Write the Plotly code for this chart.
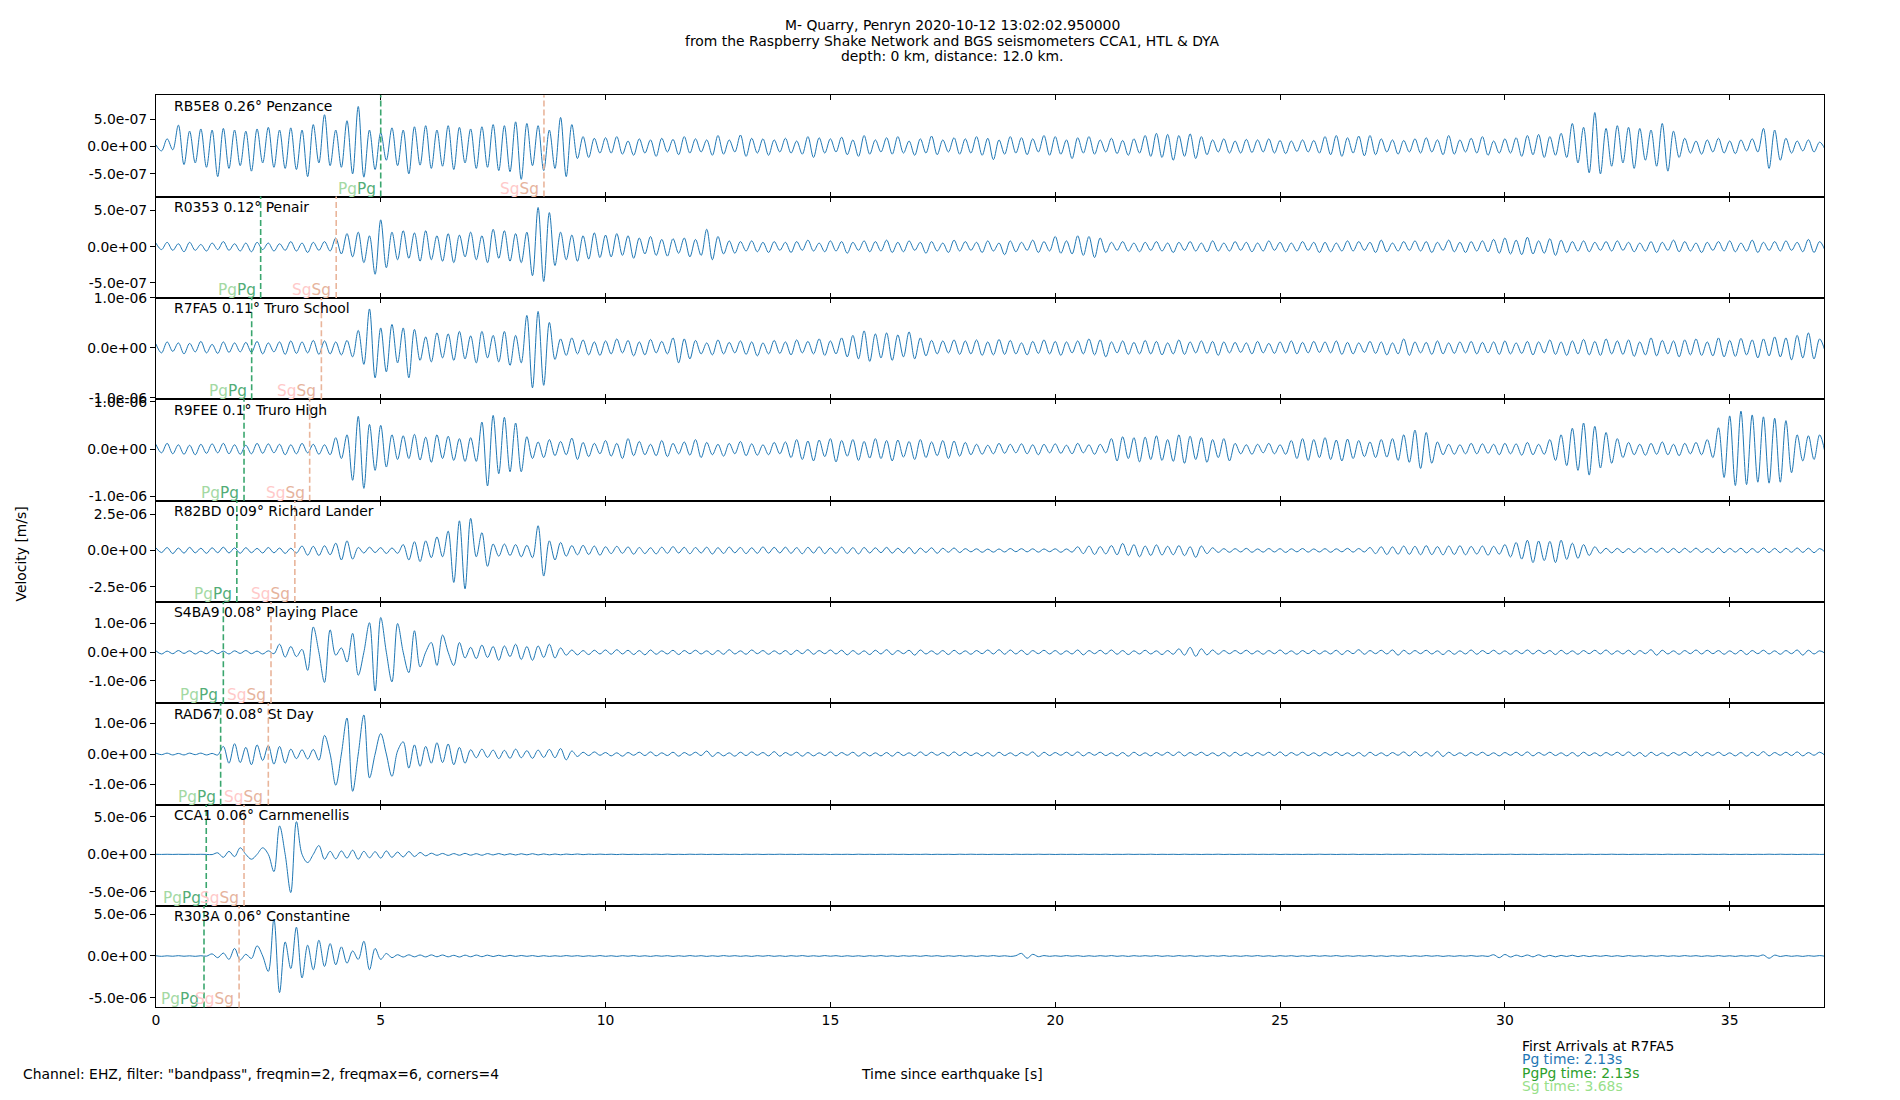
import numpy as np
import plotly.graph_objects as go
from plotly.subplots import make_subplots

# Digitised half-cycle extrema of each vertical-component trace,
# one value every DT seconds, in units of 1e-8 m/s
DT = 0.125
UNIT = 1e-8

stations = ["RB5E8", "R0353", "R7FA5", "R9FEE", "R82BD", "S4BA9", "RAD67", "CCA1", "R303A"]
distances = ["0.26", "0.12", "0.11", "0.1", "0.09", "0.08", "0.08", "0.06", "0.06"]
places = ["Penzance", "Penair", "Truro School", "Truro High", "Richard Lander",
          "Playing Place", "St Day", "Carnmenellis", "Constantine"]

# phase arrival times (s) per station
pg_times = [5.00, 2.33, 2.13, 1.96, 1.80, 1.50, 1.44, 1.12, 1.07]
sg_times = [8.63, 4.01, 3.68, 3.42, 3.09, 2.56, 2.50, 1.96, 1.85]

# y limits (units of 1e-8 m/s) and tick step (m/s) per panel
y_low = [-91.5, -70.7, -103, -109, -356, -178, -166, -688, -614]
y_high = [93.5, 69, 100, 105, 343, 175, 166, 660, 596]
tick_steps = [5e-7, 5e-7, 1e-6, 1e-6, 2.5e-6, 1e-6, 1e-6, 5e-6, 5e-6]

x_ticks = [0, 5, 10, 15, 20, 25, 30, 35]

rb5e8 = [
    3, -8, 14, -6, 39, -33, 28, -30, 32, -38, 30, -55, 33, -40, 30, -35,
    28, -45, 32, -30, 35, -38, 30, -40, 34, -42, 30, -55, 40, -30, 58, -35,
    30, -38, 47, -50, 73, -56, 30, -42, 25, -25, 34, -35, 30, -50, 36, -34,
    38, -40, 30, -36, 38, -42, 35, -30, 32, -40, 36, -38, 40, -44, 38, -46,
    45, -60, 42, -35, 38, -44, 30, -40, 53, -55, 40, -22, 18, -20, 15, -12,
    16, -12, 18, -14, 10, -16, 14, -12, 12, -18, 15, -10, 13, -15, 18, -12,
    14, -10, 12, -16, 20, -14, 12, -10, 21, -18, 15, -12, 14, -16, 12, -10,
    15, -12, 10, -14, 18, -20, 16, -12, 14, -10, 17, -15, 12, -18, 20, -14,
    12, -10, 16, -14, 18, -12, 10, -16, 14, -12, 19, -15, 12, -10, 16, -14,
    14, -12, 18, -16, 15, -24, 12, -14, 18, -12, 16, -15, 14, -10, 20, -16,
    18, -14, 12, -22, 16, -12, 18, -14, 12, -10, 15, -13, 11, -16, 14, -12,
    20, -18, 24, -20, 22, -25, 20, -18, 23, -22, 18, -15, 12, -10, 14, -12,
    10, -12, 13, -11, 12, -10, 14, -12, 11, -13, 10, -9, 12, -10, 11, -12,
    18, -15, 20, -18, 16, -12, 19, -17, 20, -15, 14, -10, 12, -14, 11, -10,
    14, -12, 16, -10, 12, -15, 20, -14, 12, -10, 15, -12, 18, -16, 10, -12,
    14, -12, 16, -18, 20, -15, 22, -20, 18, -16, 24, -20, 42, -30, 35, -48,
    62, -50, 33, -36, 38, -30, 35, -40, 33, -25, 30, -36, 42, -45, 28, -20,
    15, -12, 10, -14, 12, -10, 15, -12, 10, -13, 12, -8, 14, -10, 33, -40,
    30, -25, 15, -12, 10, -8, 12, -10, 8, -6,
]

r0353 = [
    5, -4, 6, -5, 4, -7, 6, -5, 3, -6, 5, -4, 7, -5, 4, -6,
    5, -7, 6, -4, 5, -6, 4, -5, 7, -6, 5, -8, 6, -5, 7, -6,
    12, -10, 18, -14, 20, -22, 15, -38, 37, -29, 20, -18, 22, -16, 19, -20,
    22, -18, 15, -20, 18, -22, 16, -14, 20, -18, 15, -22, 24, -16, 22, -20,
    18, -22, 20, -40, 54, -48, 47, -26, 20, -18, 16, -20, 15, -17, 19, -15,
    16, -14, 18, -12, 15, -16, 12, -10, 14, -12, 10, -13, 11, -9, 12, -14,
    10, -12, 24, -18, 14, -10, 8, -9, 7, -6, 8, -7, 6, -8, 7, -5,
    6, -8, 7, -5, 9, -6, 5, -7, 8, -6, 7, -9, 6, -5, 8, -7,
    7, -6, 9, -8, 6, -7, 8, -5, 6, -9, 7, -6, 5, -8, 9, -6,
    7, -5, 6, -8, 8, -6, 5, -11, 8, -7, 6, -5, 9, -8, 7, -6,
    14, -9, 8, -10, 15, -12, 14, -15, 12, -8, 6, -5, 7, -6, 5, -7,
    6, -5, 7, -6, 5, -8, 6, -5, 7, -6, 5, -7, 8, -6, 5, -6,
    7, -5, 6, -7, 5, -6, 8, -5, 6, -7, 5, -6, 7, -5, 6, -8,
    6, -7, 5, -6, 8, -6, 7, -5, 6, -8, 9, -7, 5, -6, 7, -5,
    8, -6, 7, -8, 6, -5, 9, -7, 6, -8, 7, -6, 8, -7, 10, -9,
    12, -10, 9, -11, 13, -10, 8, -9, 11, -12, 9, -8, 7, -6, 8, -7,
    6, -5, 7, -6, 8, -5, 6, -7, 5, -6, 7, -8, 6, -5, 9, -7,
    7, -6, 5, -8, 6, -5, 7, -6, 8, -7, 5, -6, 9, -8, 6, -5,
    7, -6, 8, -5, 6, -7, 10, -8, 7, -6,
]

r7fa5 = [
    8, -10, 12, -7, 10, -12, 9, -8, 13, -10, 7, -11, 12, -9, 10, -8,
    11, -9, 13, -12, 10, -8, 12, -13, 14, -11, 12, -10, 15, -13, 14, -12,
    12, -14, 15, -18, 35, -33, 78, -60, 40, -48, 47, -30, 40, -60, 37, -25,
    22, -28, 30, -20, 28, -25, 33, -22, 24, -30, 33, -20, 25, -28, 33, -35,
    25, -30, 65, -80, 73, -75, 51, -23, 18, -15, 20, -12, 16, -14, 12, -15,
    14, -12, 18, -10, 15, -16, 12, -14, 17, -10, 13, -12, 20, -30, 18, -22,
    15, -12, 10, -14, 16, -12, 11, -10, 14, -13, 12, -16, 10, -12, 15, -11,
    12, -14, 16, -10, 13, -12, 18, -15, 14, -12, 20, -18, 25, -22, 34, -27,
    28, -20, 30, -25, 26, -18, 32, -22, 20, -16, 15, -12, 14, -10, 16, -13,
    14, -12, 16, -15, 12, -14, 17, -13, 15, -12, 10, -14, 13, -11, 16, -12,
    13, -15, 12, -10, 14, -12, 18, -14, 16, -18, 12, -10, 14, -13, 11, -12,
    15, -12, 13, -14, 10, -12, 16, -13, 12, -10, 14, -11, 13, -15, 12, -10,
    11, -9, 10, -12, 13, -10, 9, -11, 12, -10, 14, -12, 11, -10, 13, -9,
    12, -10, 14, -13, 11, -12, 10, -9, 13, -11, 12, -14, 10, -12, 18, -15,
    12, -10, 11, -13, 14, -12, 10, -11, 12, -10, 13, -12, 11, -10, 12, -13,
    14, -12, 10, -11, 13, -14, 12, -10, 16, -13, 12, -15, 14, -12, 17, -14,
    13, -15, 18, -12, 14, -13, 16, -17, 12, -14, 20, -16, 15, -12, 14, -18,
    16, -14, 18, -15, 12, -16, 20, -18, 15, -17, 19, -14, 16, -20, 18, -16,
    22, -18, 20, -24, 25, -20, 30, -22, 18, -8,
]

r9fee = [
    10, -8, 12, -10, 9, -11, 8, -12, 10, -9, 11, -8, 12, -10, 9, -11,
    8, -10, 12, -9, 11, -8, 10, -12, 9, -10, 12, -8, 10, -11, 9, -12,
    24, -20, 30, -66, 69, -83, 52, -45, 50, -38, 30, -22, 28, -20, 31, -23,
    25, -28, 30, -20, 27, -24, 22, -26, 24, -26, 57, -78, 71, -52, 67, -48,
    55, -48, 26, -20, 15, -18, 20, -14, 16, -12, 23, -22, 14, -16, 12, -10,
    18, -15, 12, -20, 22, -14, 16, -12, 10, -14, 18, -16, 12, -10, 15, -13,
    20, -18, 14, -12, 10, -15, 12, -10, 16, -14, 11, -13, 9, -12, 14, -10,
    15, -18, 20, -22, 17, -25, 19, -16, 22, -27, 18, -15, 20, -24, 16, -19,
    22, -20, 18, -25, 19, -17, 16, -22, 20, -18, 15, -14, 18, -20, 17, -15,
    14, -12, 10, -11, 8, -10, 12, -9, 10, -8, 11, -10, 9, -12, 10, -8,
    11, -9, 8, -10, 12, -8, 9, -11, 10, -8, 22, -25, 26, -20, 24, -27,
    25, -22, 28, -24, 20, -26, 30, -30, 27, -22, 24, -28, 20, -18, 22, -25,
    12, -10, 9, -11, 10, -8, 12, -10, 9, -11, 18, -20, 22, -24, 20, -18,
    24, -22, 19, -25, 21, -20, 18, -16, 15, -18, 20, -17, 22, -24, 30, -28,
    40, -41, 35, -30, 15, -12, 10, -11, 9, -10, 12, -10, 11, -9, 10, -12,
    12, -10, 11, -13, 14, -12, 10, -11, 20, -24, 30, -35, 44, -45, 55, -55,
    48, -40, 35, -30, 22, -18, 14, -12, 10, -13, 12, -11, 15, -12, 10, -14,
    12, -10, 14, -12, 20, -18, 45, -60, 70, -77, 80, -75, 72, -70, 68, -72,
    65, -70, 60, -50, 30, -25, 28, -22, 30, -10,
]

r82bd = [
    18, -15, 20, -22, 16, -19, 21, -17, 15, -20, 18, -16, 22, -18, 17, -20,
    19, -16, 14, -18, 20, -17, 16, -21, 15, -18, 30, -33, 28, -35, 32, -30,
    50, -66, 66, -60, 20, -18, 22, -15, 19, -21, 17, -20, 40, -66, 60, -77,
    66, -50, 93, -44, 133, -221, 204, -265, 221, -44, 122, -110, 44, -40, 44, -35,
    40, -44, 35, -50, 170, -177, 66, -66, 55, -40, 33, -30, 35, -28, 30, -33,
    25, -22, 28, -20, 24, -26, 20, -22, 18, -24, 22, -20, 26, -18, 21, -23,
    20, -18, 22, -25, 19, -21, 23, -17, 20, -22, 18, -20, 24, -19, 21, -18,
    22, -20, 19, -23, 21, -18, 24, -22, 17, -20, 22, -21, 19, -24, 20, -18,
    18, -16, 21, -19, 15, -17, 20, -22, 16, -14, 18, -20, 15, -13, 17, -15,
    12, -10, 11, -13, 9, -12, 10, -11, 13, -9, 12, -10, 11, -12, 10, -9,
    11, -13, 10, -12, 25, -22, 30, -28, 26, -24, 33, -30, 48, -35, 40, -44,
    30, -35, 38, -32, 28, -30, 33, -36, 25, -48, 30, -22, 18, -14, 12, -13,
    12, -11, 14, -13, 10, -12, 13, -11, 12, -14, 11, -10, 13, -12, 10, -11,
    12, -13, 11, -10, 14, -12, 13, -11, 20, -22, 25, -28, 24, -26, 30, -27,
    28, -30, 33, -29, 26, -31, 30, -28, 32, -30, 27, -25, 30, -33, 28, -26,
    40, -45, 55, -60, 70, -84, 65, -70, 62, -84, 70, -62, 50, -55, 40, -35,
    25, -20, 15, -17, 14, -16, 13, -15, 16, -14, 15, -13, 17, -15, 14, -16,
    15, -13, 16, -14, 13, -15, 17, -16, 14, -12, 15, -17, 13, -14, 16, -15,
    14, -16, 15, -13, 17, -14, 15, -16, 13, -14,
]

s4ba9 = [
    5, -6, 4, -5, 6, -4, 5, -6, 4, -5, 6, -5, 4, -6, 5, -4,
    6, -5, 4, -6, 5, -5, 28, -17, 20, -15, 10, -63, 88, 0, -105, 78,
    -10, 15, -34, 66, -80, 0, 103, -135, 121, 0, -103, 100, 0, -71, 75, -51,
    0, 34, -46, 60, 0, -46, 34, -20, 17, -22, 25, -18, 20, -28, 22, -15,
    28, -25, 20, -28, 22, -18, 28, -20, 15, -10, 8, -9, 6, -8, 7, -6,
    8, -7, 9, -6, 7, -8, 6, -9, 8, -7, 5, -6, 7, -8, 6, -5,
    7, -6, 5, -8, 6, -7, 9, -6, 5, -7, 8, -5, 6, -7, 5, -6,
    6, -8, 7, -5, 9, -7, 6, -5, 8, -6, 7, -9, 6, -7, 5, -8,
    7, -6, 9, -8, 6, -5, 7, -10, 8, -6, 5, -7, 6, -8, 7, -6,
    5, -7, 6, -5, 8, -6, 9, -7, 8, -6, 7, -8, 6, -5, 7, -6,
    6, -7, 5, -6, 8, -9, 6, -5, 7, -6, 8, -7, 6, -8, 5, -6,
    7, -6, 5, -8, 6, -7, 12, -10, 17, -14, 12, -9, 8, -7, 6, -5,
    6, -5, 7, -6, 5, -7, 6, -5, 8, -6, 5, -7, 6, -5, 7, -6,
    5, -6, 7, -8, 6, -5, 9, -7, 6, -5, 7, -6, 8, -10, 7, -6,
    6, -5, 7, -6, 5, -8, 6, -7, 5, -6, 8, -7, 6, -5, 7, -6,
    5, -7, 6, -5, 8, -6, 7, -5, 6, -8, 7, -6, 5, -7, 6, -5,
    7, -6, 8, -7, 5, -6, 7, -8, 6, -5, 9, -10, 7, -6, 5, -7,
    6, -5, 8, -6, 7, -5, 6, -7, 5, -6, 7, -8, 6, -5, 7, -6,
    5, -7, 6, -5, 8, -10, 7, -6, 5, -4,
]

rad67 = [
    3, -2, 3, -3, 2, -3, 3, -2, 3, -3, 2, -3, 25, -30, 34, -28,
    22, -35, 30, -21, 28, -33, 25, -30, 16, -15, 14, -16, 15, -20, 61, 0,
    -102, 0, 118, -122, 0, 128, -78, 0, 67, 0, -73, 10, 40, -46, 30, -40,
    25, -30, 37, -28, 33, -35, 22, -30, 14, -12, 16, -11, 13, -15, 12, -14,
    16, -12, 11, -14, 13, -11, 15, -12, 18, -19, 10, -8, 6, -5, 7, -4,
    5, -6, 4, -7, 5, -4, 6, -5, 7, -6, 4, -5, 6, -7, 5, -4,
    6, -5, 10, -8, 5, -6, 4, -7, 6, -5, 7, -4, 5, -6, 8, -7,
    5, -4, 6, -7, 5, -6, 4, -5, 7, -6, 5, -4, 6, -7, 5, -6,
    4, -6, 5, -7, 6, -5, 4, -6, 7, -5, 6, -4, 5, -6, 7, -5,
    6, -5, 4, -6, 5, -7, 6, -5, 4, -6, 5, -4, 7, -8, 6, -5,
    5, -4, 6, -5, 7, -6, 5, -4, 6, -5, 4, -6, 5, -7, 6, -5,
    4, -6, 5, -4, 6, -5, 7, -6, 5, -4, 6, -5, 4, -6, 5, -7,
    6, -5, 4, -6, 5, -4, 6, -5, 7, -6, 5, -4, 6, -5, 4, -6,
    5, -4, 6, -5, 4, -6, 5, -7, 6, -5, 4, -6, 5, -4, 7, -6,
    8, -6, 5, -7, 9, -8, 6, -5, 4, -6, 5, -4, 6, -5, 4, -6,
    5, -4, 6, -5, 7, -6, 5, -4, 6, -5, 4, -6, 5, -7, 6, -5,
    4, -6, 5, -4, 6, -5, 7, -6, 5, -8, 6, -5, 4, -6, 5, -4,
    6, -5, 7, -6, 5, -4, 6, -5, 4, -6, 5, -7, 6, -5, 8, -6,
    5, -4, 6, -5, 7, -6, 5, -4, 6, -5,
]

cca1 = [
    1, -1, 1, -1, 1, -1, 1, -1, 1, -1, -3, 20, -40, 40, -30, 87,
    0, -65, 0, 87, 0, -230, 378, 0, -509, 435, 0, -109, 0, 117, -65, 40,
    -60, 45, -50, 55, -65, 40, -45, 35, -50, 45, -40, 30, -35, 38, -30, 25,
    -20, 15, -13, 12, -14, 10, -12, 13, -11, 9, -12, 10, -8, 11, -9, 8,
    -9, 8, -7, 9, -8, 6, -7, 5, -6, 4, -3, 5, -4, 3, -2, 3,
    -2, 2, -3, 2, -2, 1, -2, 2, -1, 2, -2, 3, -2, 1, -2, 2,
    -1, 2, -2, 1, -2, 2, -1, 1, -2, 2, -1, 2, -2, 1, -1, 2,
    -1, 1, -2, 2, -1, 1, -1, 2, -2, 1, -1, 1, -2, 2, -1, 1,
    -2, 1, -1, 2, -1, 1, -2, 1, -1, 2, -2, 1, -1, 1, -2, 2,
    -1, 2, -1, 1, -2, 1, -1, 1, -2, 2, -1, 1, -1, 2, -1, 1,
    -2, 1, -1, 1, -2, 2, -1, 1, -1, 2, -2, 1, -1, 2, -1, 1,
    -1, 2, -2, 1, -1, 1, -2, 2, -1, 1, -2, 1, -1, 2, -2, 1,
    -2, 1, -1, 2, -1, 1, -1, 2, -2, 1, -1, 1, -2, 1, -1, 2,
    -1, 1, -2, 1, -1, 2, -2, 1, -1, 1, -2, 2, -1, 1, -1, 2,
    -2, 2, -1, 1, -1, 2, -1, 1, -2, 1, -1, 2, -2, 1, -1, 1,
    -1, 2, -2, 1, -1, 1, -2, 2, -1, 1, -1, 2, -2, 1, -1, 2,
    -2, 1, -1, 2, -1, 1, -2, 1, -1, 2, -1, 1, -2, 2, -1, 1,
    -1, 1, -2, 2, -1, 1, -1, 2, -2, 1, -1, 1, -2, 1, -1, 2,
    -1, 2, -1, 1, -2, 1, -1, 2, -1, 1,
]

r303a = [
    3, -4, 2, -3, 4, -3, 2, -4, 3, -2, 25, -20, 35, -40, 90, -47,
    20, -30, 121, 0, -184, 441, -437, 168, -150, 344, -262, 129, -164, 188, -125, 148,
    -105, 109, -86, 60, -40, 176, -164, 90, -40, 30, -20, 15, -12, 14, -10, 12,
    -11, 13, -9, 12, -10, 8, -12, 10, -9, 11, -8, 10, -7, 9, -6, 8,
    -5, 6, -4, 5, -6, 4, -5, 3, -4, 5, -3, 4, -5, 3, -4, 5,
    -4, 3, -5, 4, -3, 5, -4, 3, -5, 4, -3, 4, -5, 3, -4, 5,
    -3, 4, -5, 3, -4, 5, -3, 4, -4, 3, -5, 4, -3, 5, -4, 3,
    -5, 4, -3, 5, -4, 3, -4, 5, -3, 4, -5, 3, -4, 3, -5, 4,
    -3, 5, -4, 3, -5, 4, -3, 4, -4, 5, -3, 4, -5, 3, -4, 5,
    -4, 3, -5, 4, -3, 5, -4, 3, -5, 4, 31, -27, 20, -8, 5, -4,
    3, -4, 5, -3, 4, -5, 3, -4, 4, -3, 5, -4, 3, -5, 4, -3,
    4, -3, 5, -4, 3, -4, 5, -3, 4, -5, 3, -4, 4, -3, 5, -4,
    3, -4, 4, -3, 5, -4, 3, -5, 4, -3, 4, -5, 3, -4, 5, -3,
    4, -3, 5, -4, 3, -4, 4, -3, 5, -4, 3, -5, 4, -3, 4, -5,
    3, -4, 5, -3, 4, -5, 3, -4, 4, -3, 5, -4, 3, -5, 15, -20,
    18, -12, 10, -8, 12, -10, 14, -9, 8, -10, 7, -6, 9, -8, 6, -7,
    5, -4, 6, -5, 4, -6, 5, -4, 3, -5, 4, -3, 5, -4, 3, -4,
    5, -3, 4, -5, 3, -4, 5, -4, 3, -5, 4, -3, 5, -4, 12, -27,
    10, -6, 5, -4, 3, -5, 4, -3, 5, -4,
]

traces = [rb5e8, r0353, r7fa5, r9fee, r82bd, s4ba9, rad67, cca1, r303a]

# page geometry: the page body keeps an 8 px margin, so the figure is
# offset by PAD and positions below are given in window pixels
PAD = 8
PW, PH = 1900 - 2 * PAD, 1100 - PAD
LEFT, RIGHT = 152.2, 1824.0
TOP, BOTTOM = 88.3, 1012.3
FONT = "DejaVu Sans"
FS = 13.9
TRACE_COLOR = "#1f77b4"
PG_LINE, SG_LINE = "#3aa66e", "#e9b59b"
PG_LIGHT, PG_DARK = "#a3d9a3", "#52ad77"
SG_LIGHT, SG_DARK = "#ffc9c9", "#e6b39c"


def px_x(x):
    return (x - PAD) / PW


def px_y(y):
    return 1 - (y - PAD) / PH


def axis_name(prefix, k):
    return prefix if k == 1 else f"{prefix}{k}"


n = len(stations)
panel_h = (BOTTOM - TOP) / n

fig = make_subplots(rows=n, cols=1, shared_xaxes=True, vertical_spacing=0,
                    specs=[[{"secondary_y": True}] for _ in range(n)])

for i in range(n):
    row = i + 1
    vals = np.array(traces[i], dtype=float) * UNIT
    t = np.arange(len(vals)) * DT
    fig.add_trace(go.Scatter(x=t, y=vals, mode="lines",
                             line=dict(color=TRACE_COLOR, width=1, shape="spline"),
                             showlegend=False, hoverinfo="skip"),
                  row=row, col=1, secondary_y=False)

    top_px = TOP + i * panel_h
    bot_px = top_px + panel_h
    dom = [px_y(bot_px), px_y(top_px)]
    lo, hi = y_low[i] * UNIT, y_high[i] * UNIT
    s = tick_steps[i]
    tv = [-s, 0, s]
    tt = [f"{v:.1e}" for v in tv]

    fig.update_yaxes(row=row, col=1, secondary_y=False, domain=dom, range=[lo, hi],
                     tickvals=tv, ticktext=tt, ticks="outside", ticklen=5,
                     tickcolor="black", showline=True, mirror=True,
                     linecolor="black", linewidth=1, showgrid=False,
                     zeroline=False, tickfont=dict(size=FS, color="black"))
    fig.update_yaxes(row=row, col=1, secondary_y=True, range=[lo, hi],
                     tickvals=tv, ticks="inside", ticklen=5, tickcolor="black",
                     showticklabels=False, showline=False, showgrid=False,
                     zeroline=False)
    fig.update_xaxes(row=row, col=1, domain=[px_x(LEFT), px_x(RIGHT)],
                     range=[0, 37.1], tickvals=x_ticks, ticks="inside", ticklen=5,
                     tickcolor="black", mirror="allticks", showline=True,
                     linecolor="black", linewidth=1, showgrid=False,
                     zeroline=False, showticklabels=(row == n),
                     tickfont=dict(size=FS, color="black"))

    xr = axis_name("x", row)
    yr = axis_name("y", 2 * row - 1) + " domain"

    # phase markers
    for tp, col in ((pg_times[i], PG_LINE), (sg_times[i], SG_LINE)):
        fig.add_shape(type="line", xref=xr, yref=yr, x0=tp, x1=tp, y0=0, y1=1,
                      line=dict(color=col, width=1.6, dash="6px,3px"))
    fig.add_annotation(xref=xr, yref=yr, x=pg_times[i], y=0, xanchor="right",
                       yanchor="bottom", xshift=-3, yshift=-3, showarrow=False,
                       text=f"<span style='color:{PG_LIGHT}'>Pg</span>"
                            f"<span style='color:{PG_DARK}'>Pg</span>",
                       font=dict(size=15.3))
    fig.add_annotation(xref=xr, yref=yr, x=sg_times[i], y=0, xanchor="right",
                       yanchor="bottom", xshift=-3, yshift=-3, showarrow=False,
                       text=f"<span style='color:{SG_LIGHT}'>Sg</span>"
                            f"<span style='color:{SG_DARK}'>Sg</span>",
                       font=dict(size=15.3))

    # station label
    fig.add_annotation(xref="paper", yref="paper", x=px_x(168), y=px_y(top_px + 10.5),
                       xanchor="left", yanchor="middle", showarrow=False,
                       font=dict(size=FS, color="black"),
                       text=f"{stations[i]} {distances[i]}° {places[i]}")

title_lines = ["M- Quarry, Penryn 2020-10-12 13:02:02.950000",
               "from the Raspberry Shake Network and BGS seismometers CCA1, HTL & DYA",
               "depth: 0 km, distance: 12.0 km."]
for line, ypx in zip(title_lines, [17, 33, 49]):
    fig.add_annotation(xref="paper", yref="paper", x=px_x(950), y=px_y(ypx),
                       xanchor="center", yanchor="middle", showarrow=False,
                       text=line, font=dict(size=FS, color="black"))

fig.add_annotation(xref="paper", yref="paper", x=px_x(17.5), y=px_y(553),
                   xanchor="center", yanchor="middle", textangle=-90,
                   showarrow=False, text="Velocity [m/s]",
                   font=dict(size=FS, color="black"))
fig.add_annotation(xref="paper", yref="paper", x=px_x(950.5), y=px_y(1080),
                   xanchor="center", yanchor="middle", showarrow=False,
                   text="Time since earthquake [s]", font=dict(size=FS, color="black"))
fig.add_annotation(xref="paper", yref="paper", x=px_x(17), y=px_y(1080),
                   xanchor="left", yanchor="middle", showarrow=False,
                   text='Channel: EHZ, filter: "bandpass", freqmin=2, freqmax=6, corners=4',
                   font=dict(size=FS, color="black"))

legend_lines = [("First Arrivals at R7FA5", "black"),
                (f"Pg time: {2.13:.2f}s", "#1f77b4"),
                (f"PgPg time: {2.13:.2f}s", "#2ca02c"),
                (f"Sg time: {3.68:.2f}s", "#98df8a")]
for (txt, col), ypx in zip(legend_lines, [1051, 1064.5, 1078.3, 1091.5]):
    fig.add_annotation(xref="paper", yref="paper", x=px_x(1519), y=px_y(ypx),
                       xanchor="left", yanchor="middle", showarrow=False,
                       text=txt, font=dict(size=FS, color=col))

fig.update_layout(width=PW, height=PH, margin=dict(l=0, r=0, t=0, b=0),
                  paper_bgcolor="white", plot_bgcolor="white",
                  font=dict(family=FONT, size=FS, color="black"),
                  showlegend=False, hovermode=False)

fig.write_html("out.html")
